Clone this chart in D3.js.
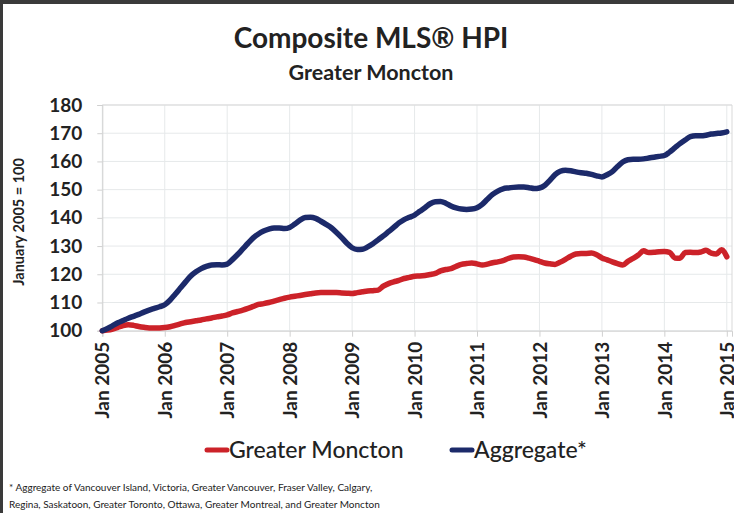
<!DOCTYPE html>
<html>
<head>
<meta charset="utf-8">
<script src="https://cdn.jsdelivr.net/npm/d3@7"></script>
<style>
  html, body { margin: 0; padding: 0; background: #fff; }
  svg { display: block; font-family: Lato, "Open Sans", sans-serif; }
</style>
</head>
<body>
<svg id="chart" width="734" height="513"></svg>
<script>
// ---- data ----
const title = "Composite MLS® HPI";
const subtitle = "Greater Moncton";
const yAxisTitle = "January 2005 = 100";
const seriesNames = ["Greater Moncton", "Aggregate*"];
const footnoteLines = [
  "* Aggregate of Vancouver Island, Victoria, Greater Vancouver, Fraser Valley, Calgary,",
  "Regina, Saskatoon, Greater Toronto, Ottawa, Greater Montreal, and Greater Moncton"
];
const xTickLabels = ["Jan 2005","Jan 2006","Jan 2007","Jan 2008","Jan 2009","Jan 2010",
                     "Jan 2011","Jan 2012","Jan 2013","Jan 2014","Jan 2015"];
const yTicks = [100,110,120,130,140,150,160,170,180];

// monthly index values, Jan 2005 .. Jan 2015
const moncton = [
  100.0,100.2,100.6,101.2,101.8,102.1,101.9,101.5,101.2,101.0,101.0,101.0,
  101.1,101.4,101.9,102.4,102.9,103.2,103.5,103.8,104.2,104.5,104.9,105.2,
  105.6,106.3,106.8,107.3,107.9,108.6,109.3,109.6,110.0,110.5,111.0,111.5,
  111.9,112.2,112.5,112.8,113.1,113.4,113.5,113.5,113.5,113.5,113.4,113.3,
  113.2,113.5,113.8,114.1,114.2,114.4,115.8,116.7,117.3,117.8,118.5,118.9,
  119.3,119.4,119.6,119.9,120.3,121.2,121.7,122.0,122.8,123.5,123.8,124.0,
  123.7,123.3,123.6,124.1,124.4,124.8,125.6,126.1,126.2,126.1,125.7,125.2,
  124.6,124.0,123.7,123.5,124.3,125.3,126.4,127.2,127.4,127.4,127.5,126.9,
  125.8,125.1,124.4,123.8,123.3,124.6,125.6,126.8,128.3,127.7,127.8,128.0,
  128.1,127.8,125.8,125.7,127.7,127.8,127.7,127.9,128.5,127.5,127.2,128.7,
  126.2
];
const aggregate = [
  100.0,100.8,101.8,102.8,103.6,104.4,105.1,105.8,106.6,107.3,107.9,108.5,
  109.2,110.8,112.9,115.1,117.3,119.4,120.9,122.0,122.8,123.3,123.4,123.3,
  123.6,125.2,127.0,129.0,131.0,132.9,134.3,135.3,136.0,136.4,136.4,136.2,
  136.6,137.8,139.2,140.1,140.2,139.8,138.8,137.7,136.5,134.8,133.0,131.0,
  129.4,128.8,128.9,129.7,130.8,132.2,133.6,135.1,136.6,138.2,139.4,140.2,
  141.0,142.3,143.6,145.0,145.7,145.8,145.2,144.2,143.5,143.1,143.0,143.1,
  143.6,144.8,146.6,148.3,149.5,150.3,150.6,150.8,150.9,150.9,150.7,150.4,
  150.6,151.5,153.3,155.3,156.5,156.9,156.7,156.3,156.0,155.8,155.4,154.9,
  154.5,155.3,156.4,158.2,159.8,160.6,160.8,160.8,160.9,161.2,161.5,161.8,
  162.1,163.3,164.8,166.3,167.6,168.8,169.1,169.1,169.3,169.7,169.9,170.1,
  170.5
];
const seriesColors = ["#cc2229", "#1c2a6a"];

// ---- layout ----
const svg = d3.select("#chart");
const W = 734, H = 513;
const plot = { left: 102.3, right: 732, top: 105, bottom: 330.7 };

svg.append("rect").attr("x", 0).attr("y", 0).attr("width", W).attr("height", H).attr("fill", "#fff");
svg.append("rect").attr("x", 0).attr("y", 0).attr("width", W).attr("height", 4).attr("fill", "#3a3a3a");
svg.append("rect").attr("x", 0).attr("y", 0).attr("width", 3).attr("height", H).attr("fill", "#3a3a3a");

const x = d3.scaleLinear().domain([0, 121]).range([plot.left, plot.right]);
const y = d3.scaleLinear().domain([100, 180]).range([plot.bottom, plot.top]);

// titles
svg.append("text").attr("x", 371).attr("y", 48).attr("text-anchor", "middle")
  .attr("font-size", 28).attr("font-weight", "bold").attr("fill", "#222").text(title);
svg.append("text").attr("x", 371).attr("y", 80).attr("text-anchor", "middle")
  .attr("font-size", 21.5).attr("font-weight", "bold").attr("fill", "#222").text(subtitle);

// gridlines
const g = svg.append("g");
g.selectAll("line.hg").data(yTicks).join("line").attr("class", "hg")
  .attr("x1", plot.left).attr("x2", plot.right)
  .attr("y1", d => y(d)).attr("y2", d => y(d))
  .attr("stroke", "#e6e9ea").attr("stroke-width", 1);
const xTickIdx = xTickLabels.map((_, i) => i * 12);
g.selectAll("line.vg").data(xTickIdx).join("line").attr("class", "vg")
  .attr("x1", d => x(d)).attr("x2", d => x(d))
  .attr("y1", plot.top).attr("y2", plot.bottom)
  .attr("stroke", "#e6e9ea").attr("stroke-width", 1);
g.append("line").attr("x1", plot.left).attr("x2", plot.right).attr("y1", plot.top).attr("y2", plot.top)
  .attr("stroke", "#d9d9d9");
g.append("line").attr("x1", plot.right).attr("x2", plot.right).attr("y1", plot.top).attr("y2", plot.bottom)
  .attr("stroke", "#d9d9d9");

// axes
const yAxis = d3.axisLeft(y).tickValues(yTicks).tickSize(5).tickPadding(15);
const yg = svg.append("g").attr("transform", `translate(${plot.left},0)`).call(yAxis);
yg.select(".domain").attr("stroke", "#d0d0d0");
yg.selectAll(".tick line").attr("stroke", "#d0d0d0");
yg.selectAll(".tick text").attr("font-size", 19).attr("font-weight", "bold").attr("fill", "#222")
  .attr("font-family", "Lato, sans-serif");

const xAxis = d3.axisBottom(x).tickValues(xTickIdx).tickSize(6)
  .tickFormat((d, i) => xTickLabels[i]);
const xg = svg.append("g").attr("transform", `translate(0,${plot.bottom})`).call(xAxis);
xg.select(".domain").attr("stroke", "#d0d0d0");
xg.selectAll(".tick line").attr("stroke", "#d0d0d0");
xg.selectAll(".tick text")
  .attr("font-size", 19).attr("font-weight", "bold").attr("fill", "#222")
  .attr("font-family", "Lato, sans-serif")
  .attr("text-anchor", "end").attr("dy", "0.35em")
  .attr("transform", "translate(0,11) rotate(-90)")
  .attr("x", 0).attr("y", 0);

// y-axis title
svg.append("text").attr("transform", `translate(24,${(plot.top + plot.bottom) / 2 + 4}) rotate(-90)`)
  .attr("text-anchor", "middle").attr("font-size", 14.5).attr("font-weight", "bold").attr("fill", "#222")
  .text(yAxisTitle);

// lines
const line = d3.line().x((d, i) => x(i)).y(d => y(d)).curve(d3.curveMonotoneX);
[moncton, aggregate].forEach((s, k) => {
  svg.append("path").datum(s).attr("d", line)
    .attr("fill", "none").attr("stroke", seriesColors[k]).attr("stroke-width", 5.5)
    .attr("stroke-linejoin", "round").attr("stroke-linecap", "round");
});

// legend
const legendItems = [
  { name: seriesNames[0], color: seriesColors[0], x: 207 },
  { name: seriesNames[1], color: seriesColors[1], x: 452 }
];
const lg = svg.append("g");
legendItems.forEach(it => {
  lg.append("line").attr("x1", it.x).attr("x2", it.x + 20).attr("y1", 450).attr("y2", 450)
    .attr("stroke", it.color).attr("stroke-width", 5).attr("stroke-linecap", "round");
  lg.append("text").attr("x", it.x + 22).attr("y", 458).attr("font-size", 23)
    .attr("font-weight", 500).attr("fill", "#222").text(it.name);
});

// footnote
svg.selectAll("text.fn").data(footnoteLines).join("text").attr("class", "fn")
  .attr("x", 9).attr("y", (d, i) => 491 + i * 17).attr("font-size", 10).attr("fill", "#222")
  .text(d => d);
</script>
</body>
</html>
